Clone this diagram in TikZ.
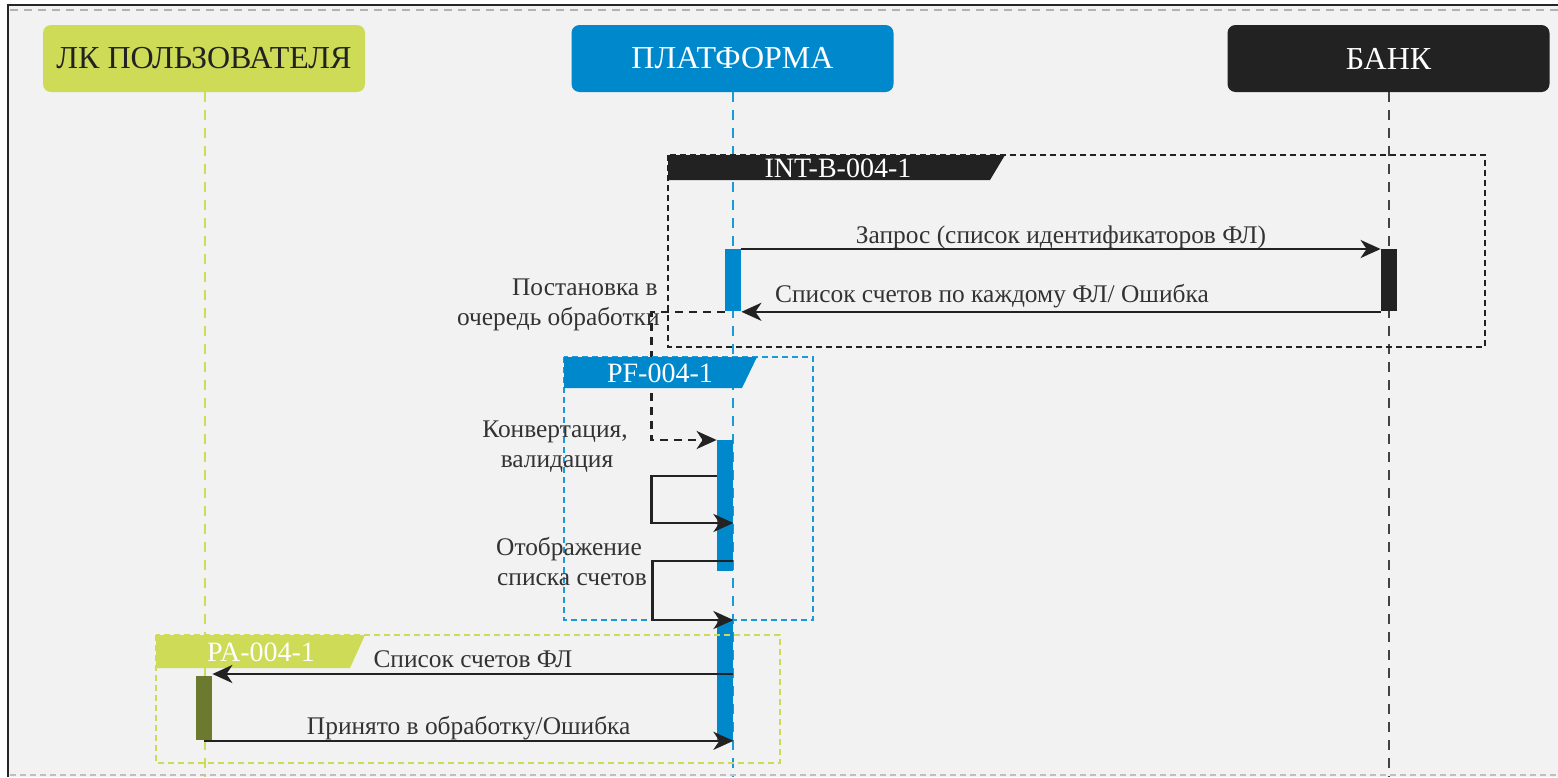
\documentclass[tikz,border=0pt]{standalone}
\usepackage{fontspec}
\setmainfont{Liberation Serif}
\usetikzlibrary{arrows.meta}
\definecolor{bg}{HTML}{F2F2F2}
\definecolor{lkgreen}{HTML}{CDDB57}
\definecolor{pfblue}{HTML}{0088CC}
\definecolor{lineblue}{HTML}{1A9AD9}
\definecolor{bkblack}{HTML}{222222}
\definecolor{olive}{HTML}{6B7A2E}
\definecolor{txt}{HTML}{333333}
\begin{document}
\begin{tikzpicture}[x=0.5pt,y=-0.5pt,
  head/.style={rounded corners=4pt, minimum width=161pt, minimum height=33.5pt, inner sep=0pt, font=\fontsize{16}{19}\selectfont},
  lifeline/.style={line width=1.25pt, dash pattern=on 5pt off 4pt},
  framebox/.style={line width=0.6pt, dash pattern=on 3pt off 2pt},
  tablbl/.style={text=white, font=\fontsize{14}{16}\selectfont, inner sep=0pt},
  act/.style={minimum width=8pt, inner sep=0pt, anchor=north, draw=none},
  msg/.style={line width=1.3pt, draw=bkblack, -{Stealth[length=10pt,width=9pt,inset=3pt]}},
  dmsg/.style={msg, dash pattern=on 4pt off 3pt},
  lbl/.style={text=txt, font=\fontsize{12.7}{15}\selectfont, inner sep=0pt},
]
\useasboundingbox (0,0) rectangle (1558,777);
% background
\fill[white] (0,0) rectangle (1558,777);
\fill[bg] (8,5) rectangle (1558,777);
\draw[line width=0.8pt, black!85] (8,777) -- (8,5) -- (1558,5);
\draw[line width=0.7pt, gray!60, dash pattern=on 4pt off 3pt] (10,10) -- (1558,10);
\draw[line width=0.8pt, gray!50, dash pattern=on 3pt off 2pt] (10,775) -- (1558,775);

% headers
\node[head, fill=lkgreen, text=bkblack] (lk) at (204,58.5) {ЛК ПОЛЬЗОВАТЕЛЯ};
\node[head, fill=pfblue, text=white] (pf) at (732.5,58.5) {ПЛАТФОРМА};
\node[head, fill=bkblack, text=white] (bk) at (1388.5,58.5) {БАНК};

% lifelines
\coordinate (lkend) at (205,777);
\coordinate (pfend) at (733,777);
\coordinate (bkend) at (1389,777);
\draw[lifeline, lkgreen] (lk.south -| lkend) -- (lkend);
\draw[lifeline, lineblue] (pf.south -| pfend) -- (pfend);
\draw[lifeline, bkblack!85] (bk.south -| bkend) -- (bkend);

% activations
\node[act, fill=pfblue, minimum height=31pt] (pa1) at (733,249) {};
\node[act, fill=bkblack, minimum height=31pt] (ba1) at (1389,249) {};
\node[act, fill=pfblue, minimum height=65.5pt] (pa2) at (725,440) {};
\node[act, fill=pfblue, minimum height=60pt] (pa3) at (725,620) {};
\node[act, fill=olive, minimum height=32pt] (la1) at (204,676) {};

% queued (dashed) message, drawn below the frame tabs
\draw[dmsg] (pa1.south west) -- ++(-73,0) |- (pa2.north west);

% frame INT-B-004-1
\draw[framebox, bkblack] (668,155) rectangle (1485,347);
\fill[bkblack] (668,155) -- (1005,155) -- (990,180) -- (668,180) -- cycle;
\node[tablbl] (intlbl) at (838,168) {INT-B-004-1};

% frame PF-004-1
\draw[framebox, lineblue] (564,357) rectangle (813,620);
\fill[pfblue] (564,357) -- (757,357) -- (742,388) -- (564,388) -- cycle;
\node[tablbl] (pflbl) at (660,373) {PF-004-1};

% frame PA-004-1
\draw[framebox, lkgreen] (156,635) rectangle (780,763);
\fill[lkgreen] (156,635) -- (365,635) -- (350,668) -- (156,668) -- cycle;
\node[tablbl] (palbl) at (261,652) {PA-004-1};

% messages
\draw[msg] (pa1.north east) -- (ba1.north west)
  node[lbl, pos=0.5, anchor=base, yshift=3pt] {Запрос (список идентификаторов ФЛ)};
\draw[msg] (ba1.south west) -- (pa1.south east)
  node[lbl, pos=0.608, anchor=base, yshift=4.5pt] {Список счетов по каждому ФЛ/ Ошибка};

\node[lbl, anchor=base east] (q1) at (658,295) {Постановка в};
\node[lbl, anchor=base east] (q2) at (660,325) {очередь обработки};

\draw[msg] ([yshift=-18pt]pa2.north west) -- ++(-65,0) |- ([yshift=-41.5pt]pa2.north east);
\node[lbl, anchor=base] (c1) at (555,437) {Конвертация,};
\node[lbl, anchor=base] (c2) at (557,467) {валидация};

\draw[msg] ([yshift=-60.5pt]pa2.north east) -- ++(-81,0) |- (pa3.north east);
\node[lbl, anchor=base] (o1) at (569,555) {Отображение};
\node[lbl, anchor=base] (o2) at (572,585) {списка счетов};

\draw[msg] ([yshift=-27pt]pa3.north east) -- ([yshift=1pt]la1.north east)
  node[lbl, pos=0.5, anchor=base, yshift=3.5pt] {Список счетов ФЛ};
\draw[msg] (la1.south) -- (pa3.south east)
  node[lbl, pos=0.5, anchor=base, yshift=3pt] {Принято в обработку/Ошибка};
\end{tikzpicture}
\end{document}
